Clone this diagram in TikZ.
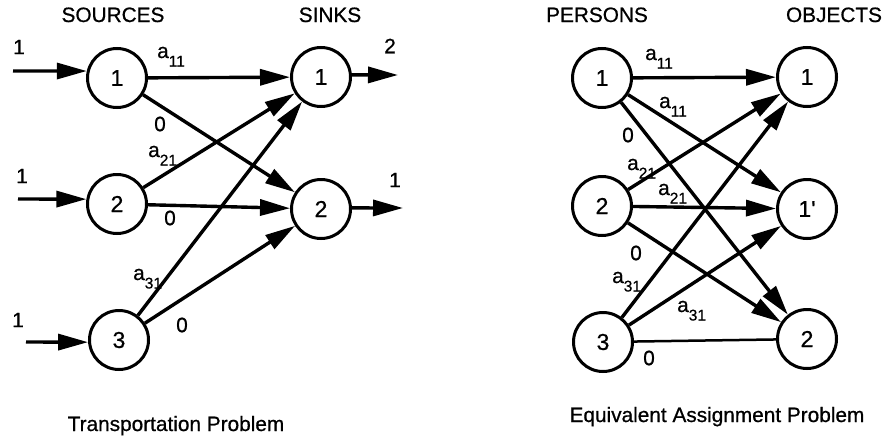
\documentclass[tikz,border=0pt]{standalone}
\usepackage{fontspec}
\setmainfont{Liberation Sans}[FakeBold=0.7]
\usetikzlibrary{arrows.meta}
\newcommand\asub[1]{a\raisebox{-8.5pt}{\fontsize{15.5}{15.5}\selectfont #1}}
\begin{document}
\begin{tikzpicture}[x=1pt,y=-1pt,
  every node/.style={font=\fontsize{20.8}{24}\selectfont},
  vertex/.style={circle,draw,line width=3pt,minimum size=59pt,inner sep=0pt,font=\fontsize{23}{26}\selectfont},
  flow/.style={line width=3.4pt,-{Triangle[length=30pt,width=16pt]}},
  bareline/.style={line width=2.5pt},
  lbl/.style={inner sep=0pt},
  heading/.style={inner sep=0pt,anchor=base}]
\path[fill=white,use as bounding box] (0,0) rectangle (888,439);

% ---------- left: transportation problem ----------
\node[heading] (hsrc) at (113,22) {SOURCES};
\node[heading] (hsnk) at (330,22) {SINKS};

\node[vertex] (s1) at (117,78) {1};
\node[vertex] (s2) at (117,204) {2};
\node[vertex] (s3) at (119,340) {3};
\node[vertex] (t1) at (321,77) {1};
\node[vertex] (t2) at (321,209) {2};

\coordinate (in1) at (13,71);
\coordinate (in2) at (18,199);
\coordinate (in3) at (26,342);
\coordinate (out1) at (398,75);
\coordinate (out2) at (403,208);

\draw[flow] (in1) -- (s1.167);
\draw[flow] (in2) -- (s2.171);
\draw[flow] (in3) -- (s3.184);
\draw[flow] (t1.4) -- (out1);
\draw[flow] (t2.2) -- (out2);

\draw[flow] (s1) -- (t1);
\draw[flow] (s1) -- (t2);
\draw[flow] (s2) -- (t1);
\draw[flow] (s2) -- (t2);
\draw[flow] (s3) -- (t1);
\draw[flow] (s3) -- (t2);

\node[lbl] (li1) at (19,47) {1};
\node[lbl] (li2) at (22,176) {1};
\node[lbl] (li3) at (18,320) {1};
\node[lbl] (lo1) at (390,46) {2};
\node[lbl] (lo2) at (395,180) {1};

\node[lbl,anchor=base west] (la11) at (157,58) {\asub{11}};
\node[lbl,anchor=base west] (la21) at (148,157) {\asub{21}};
\node[lbl,anchor=base west] (la31) at (133,280) {\asub{31}};
\node[lbl] (lz1) at (160,124) {0};
\node[lbl] (lz2) at (170,218) {0};
\node[lbl] (lz3) at (182,325) {0};

\node[heading] (cap1) at (176,431) {Transportation Problem};

% ---------- right: equivalent assignment problem ----------
\node[heading] (hper) at (597,22) {PERSONS};
\node[heading] (hobj) at (834,22) {OBJECTS};

\node[vertex] (p1) at (602,78) {1};
\node[vertex] (p2) at (602,206) {2};
\node[vertex] (p3) at (603,342) {3};
\node[vertex] (o1) at (807,77) {1};
\node[vertex] (o1p) at (807,209) {1\textquotesingle};
\node[vertex] (o2) at (807,339) {2};

\draw[flow] (p1) -- (o1);
\draw[flow] (p1) -- (o1p);
\draw[flow] (p1) -- (o2);
\draw[flow] (p2) -- (o1);
\draw[flow] (p2) -- (o1p);
\draw[flow] (p2) -- (o2);
\draw[flow] (p3) -- (o1);
\draw[flow] (p3) -- (o1p);
\draw[bareline] (p3) -- (o2);

\node[lbl,anchor=base west] (rb11) at (645,60) {\asub{11}};
\node[lbl,anchor=base west] (rc11) at (659,108) {\asub{11}};
\node[lbl,anchor=base west] (rb21) at (627,170) {\asub{21}};
\node[lbl,anchor=base west] (rc21) at (658,195) {\asub{21}};
\node[lbl,anchor=base west] (rb31) at (612,283) {\asub{31}};
\node[lbl,anchor=base west] (rc31) at (677,312) {\asub{31}};
\node[lbl] (rz1) at (628,135) {0};
\node[lbl] (rz2) at (636,253) {0};
\node[lbl] (rz3) at (649,358) {0};

\node[heading] (cap2) at (717,422) {Equivalent Assignment Problem};
\end{tikzpicture}
\end{document}
